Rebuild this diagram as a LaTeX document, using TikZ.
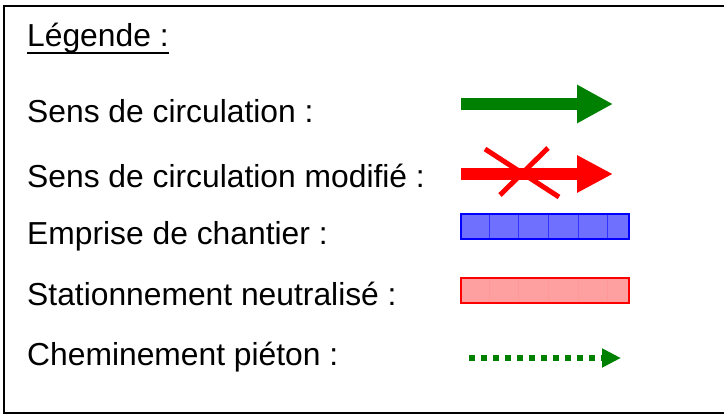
\documentclass[tikz,border=0pt]{standalone}
\usepackage{fontspec}
\setmainfont{Liberation Sans}
\usetikzlibrary{arrows.meta}
\definecolor{vert}{RGB}{0,128,0}
\definecolor{bleufond}{RGB}{112,112,255}
\definecolor{rosefond}{RGB}{255,160,160}
\begin{document}
\begin{tikzpicture}[x=1pt, y=-1pt,
    txt/.style={anchor=base west, inner sep=0pt, font=\fontsize{31.8pt}{38pt}\selectfont}]
            \useasboundingbox (0,0) rectangle (724,415);
            \draw[line width=2pt] (730,6) -- (4,6) -- (4,413) -- (730,413);

            \node[txt] (leg) at (27,46) {Légende :};
            \node[txt] (sens) at (27,122) {Sens de circulation :};
            \node[txt] (mod) at (27,187) {Sens de circulation modifié :};
            \node[txt] (empr) at (27,244) {Emprise de chantier :};
            \node[txt] (stat) at (27,305) {Stationnement neutralisé :};
            \node[txt] (chem) at (27,365) {Cheminement piéton :};
            \draw[line width=2pt] ([yshift=-7pt]leg.base west) -- ([yshift=-7pt]leg.base east);

            % fleches
            \coordinate (s1) at (461,104);
            \coordinate (s2) at (613,104);
            \draw[vert, line width=12pt, -{Triangle[length=36pt, width=36pt]}] (s1) -- (s2);

            \coordinate (m1) at (461,174);
            \coordinate (m2) at (613,174);
            \draw[red, line width=12pt, -{Triangle[length=36pt, width=35pt]}] (m1) -- (m2);
            \draw[red, line width=5pt] (485,149) -- (559,197);
            \draw[red, line width=5pt] (548,148) -- (500,195);

            % emprises
            \draw[blue, line width=2.5pt, fill=bleufond] (461,214) rectangle (629,239);
            \foreach \x in {489,518,548,578,607}
                \draw[blue!80, line width=1pt] (\x,215) -- (\x,238);
            \draw[red, line width=2.5pt, fill=rosefond] (461,278) rectangle (629,303);
            \foreach \x in {489,518,548,578,607}
                \draw[red!40, line width=1pt] (\x,279) -- (\x,302);

            \coordinate (c1) at (469,358);
            \coordinate (c2) at (621,358);
            \draw[vert, line width=6pt, dash pattern=on 6pt off 6pt, -{Triangle[length=19pt, width=18pt]}] (c1) -- (c2);
\end{tikzpicture}
\end{document}
